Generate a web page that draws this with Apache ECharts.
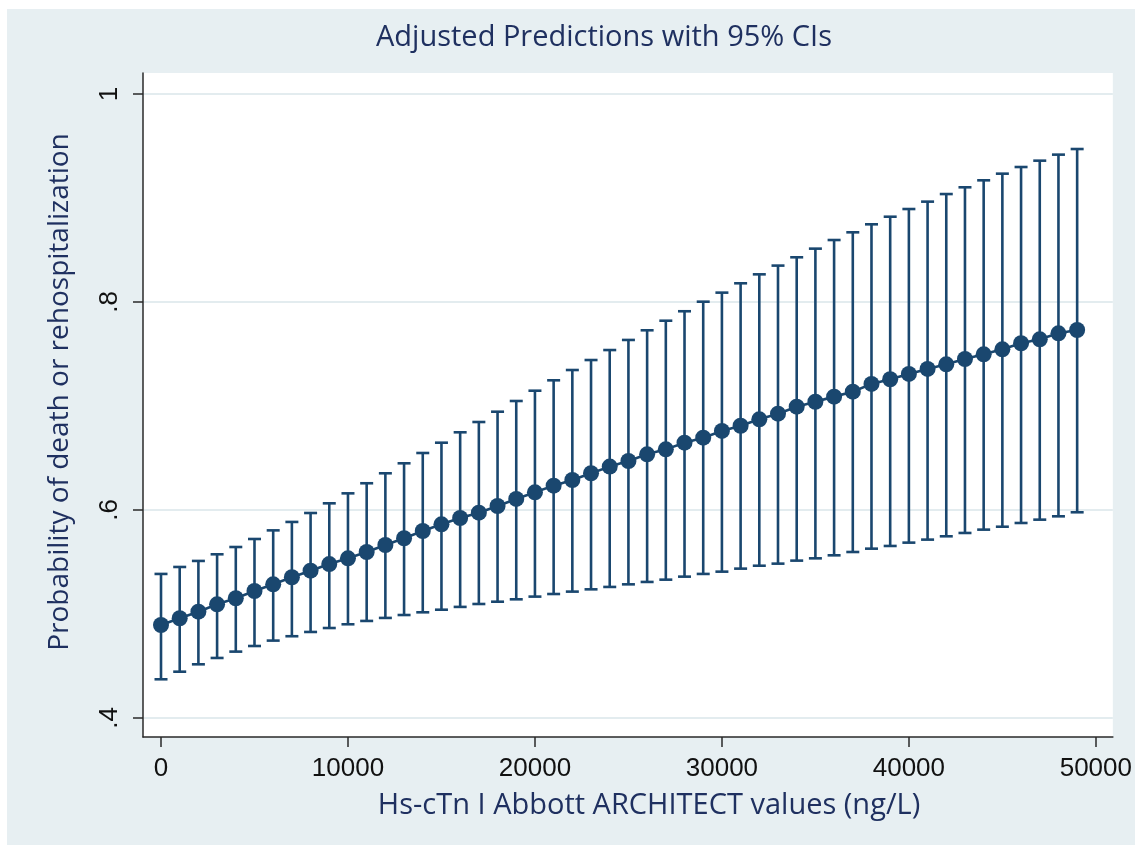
<!DOCTYPE html>
<html>
<head>
<meta charset="utf-8">
<script src="https://cdn.jsdelivr.net/npm/echarts@6/dist/echarts.min.js"></script>
<style>
html,body{margin:0;padding:0;background:#ffffff;}
#chart{width:1135px;height:845px;}
</style>
</head>
<body>
<div id="chart"></div>
<script>
// ---- data ----
const titleText = 'Adjusted Predictions with 95% CIs';
const xTitle = 'Hs-cTn I Abbott ARCHITECT values (ng/L)';
const yTitle = 'Probability of death or rehospitalization';
const xValues = [0,1000,2000,3000,4000,5000,6000,7000,8000,9000,10000,11000,12000,13000,14000,15000,16000,17000,18000,19000,20000,21000,22000,23000,24000,25000,26000,27000,28000,29000,30000,31000,32000,33000,34000,35000,36000,37000,38000,39000,40000,41000,42000,43000,44000,45000,46000,47000,48000,49000];
const predicted = [0.4894,0.4959,0.5022,0.5093,0.5151,0.5221,0.5285,0.5353,0.5416,0.5480,0.5535,0.5596,0.5663,0.5728,0.5798,0.5862,0.5923,0.5974,0.6038,0.6106,0.6170,0.6234,0.6288,0.6353,0.6417,0.6471,0.6535,0.6583,0.6647,0.6695,0.6760,0.6810,0.6872,0.6926,0.6993,0.7041,0.7090,0.7138,0.7212,0.7257,0.7308,0.7356,0.7401,0.7452,0.7497,0.7545,0.7603,0.7641,0.7699,0.7731];
const upperCI = [0.5385,0.5452,0.5510,0.5574,0.5644,0.5721,0.5804,0.5885,0.5971,0.6064,0.6160,0.6257,0.6353,0.6449,0.6548,0.6647,0.6747,0.6846,0.6945,0.7048,0.7147,0.7247,0.7346,0.7442,0.7538,0.7635,0.7728,0.7820,0.7911,0.8003,0.8090,0.8180,0.8266,0.8350,0.8430,0.8513,0.8596,0.8670,0.8747,0.8820,0.8894,0.8965,0.9038,0.9103,0.9170,0.9234,0.9298,0.9359,0.9417,0.9471];
const lowerCI = [0.4372,0.4445,0.4516,0.4577,0.4638,0.4692,0.4744,0.4786,0.4827,0.4865,0.4901,0.4933,0.4962,0.4990,0.5016,0.5041,0.5068,0.5096,0.5118,0.5141,0.5167,0.5192,0.5215,0.5237,0.5260,0.5285,0.5308,0.5330,0.5359,0.5385,0.5407,0.5436,0.5464,0.5484,0.5513,0.5535,0.5564,0.5596,0.5628,0.5654,0.5686,0.5715,0.5747,0.5779,0.5811,0.5839,0.5875,0.5907,0.5939,0.5978];
const xTicks = [0,10000,20000,30000,40000,50000];
const yTicks = [0.4,0.6,0.8,1];

// ---- chart ----
const navy = '#1a476f';
const textNavy = '#1f3060';
const chart = echarts.init(document.getElementById('chart'), null, {renderer:'canvas'});

const predData = xValues.map((x,i)=>[x,predicted[i]]);
const ciData = xValues.map((x,i)=>[x,lowerCI[i],upperCI[i]]);

chart.setOption({
  animation:false,
  backgroundColor:'transparent',
  graphic:[
    {type:'rect', z:-10, silent:true, shape:{x:7,y:9,width:1128,height:836}, style:{fill:'#e7eff2'}},
    {type:'text', silent:true, x:604, y:38,
     style:{text:titleText, x:0, y:0, align:'center', verticalAlign:'middle', font:'29px "Open Sans"', fill:textNavy}},
    {type:'text', silent:true, x:649, y:806,
     style:{text:xTitle, x:0, y:0, align:'center', verticalAlign:'middle', font:'29px "Open Sans"', fill:textNavy}},
    {type:'text', silent:true, x:60, y:392, rotation:Math.PI/2,
     style:{text:yTitle, x:0, y:0, align:'center', verticalAlign:'middle', font:'28px "Open Sans"', fill:textNavy}}
  ],
  grid:{left:143,right:22,top:73,bottom:108,show:true,backgroundColor:'#ffffff',borderWidth:0,containLabel:false},
  xAxis:{
    type:'value', min:-963, max:50909,
    axisLine:{show:true,onZero:false,lineStyle:{color:'#2a2a2a',width:1.5}},
    axisTick:{show:true,inside:false,length:10,customValues:xTicks,lineStyle:{color:'#2a2a2a',width:1.5}},
    axisLabel:{show:true,customValues:xTicks,margin:19,fontSize:26,fontFamily:'"Liberation Sans", Arial, sans-serif',color:'#111111',
      formatter:(v)=>String(v)},
    splitLine:{show:false}
  },
  yAxis:{
    type:'value', min:0.3817, max:1.0202,
    axisLine:{show:true,onZero:false,lineStyle:{color:'#2a2a2a',width:1.5}},
    axisTick:{show:true,inside:false,length:10,customValues:yTicks,lineStyle:{color:'#2a2a2a',width:1.5}},
    axisLabel:{show:true,customValues:yTicks,rotate:90,margin:20,fontSize:26,fontFamily:'"Liberation Sans", Arial, sans-serif',color:'#111111',
      formatter:(v)=>{ const r=Math.round(v*10)/10; return r===1?'1':String(r).replace(/^0/,''); }},
    splitLine:{show:true,lineStyle:{color:'#e3ecef',width:2}}
  },
  series:[
    {
      type:'custom',
      data:ciData,
      z:2,
      renderItem:(params,api)=>{
        const x=api.value(0), lo=api.value(1), hi=api.value(2);
        const pLo=api.coord([x,lo]), pHi=api.coord([x,hi]);
        const hw=6.5;
        const st={stroke:navy,lineWidth:2.6};
        return {type:'group',children:[
          {type:'line',shape:{x1:pLo[0],y1:pLo[1],x2:pHi[0],y2:pHi[1]},style:st},
          {type:'line',shape:{x1:pLo[0]-hw,y1:pLo[1],x2:pLo[0]+hw,y2:pLo[1]},style:st},
          {type:'line',shape:{x1:pHi[0]-hw,y1:pHi[1],x2:pHi[0]+hw,y2:pHi[1]},style:st}
        ]};
      },
      encode:{x:0,y:[1,2]}
    },
    {
      type:'line',
      data:predData,
      z:3,
      symbol:'circle',
      symbolSize:16,
      showSymbol:true,
      lineStyle:{color:navy,width:2.6},
      itemStyle:{color:navy,borderWidth:0}
    }
  ]
});
</script>
</body>
</html>
